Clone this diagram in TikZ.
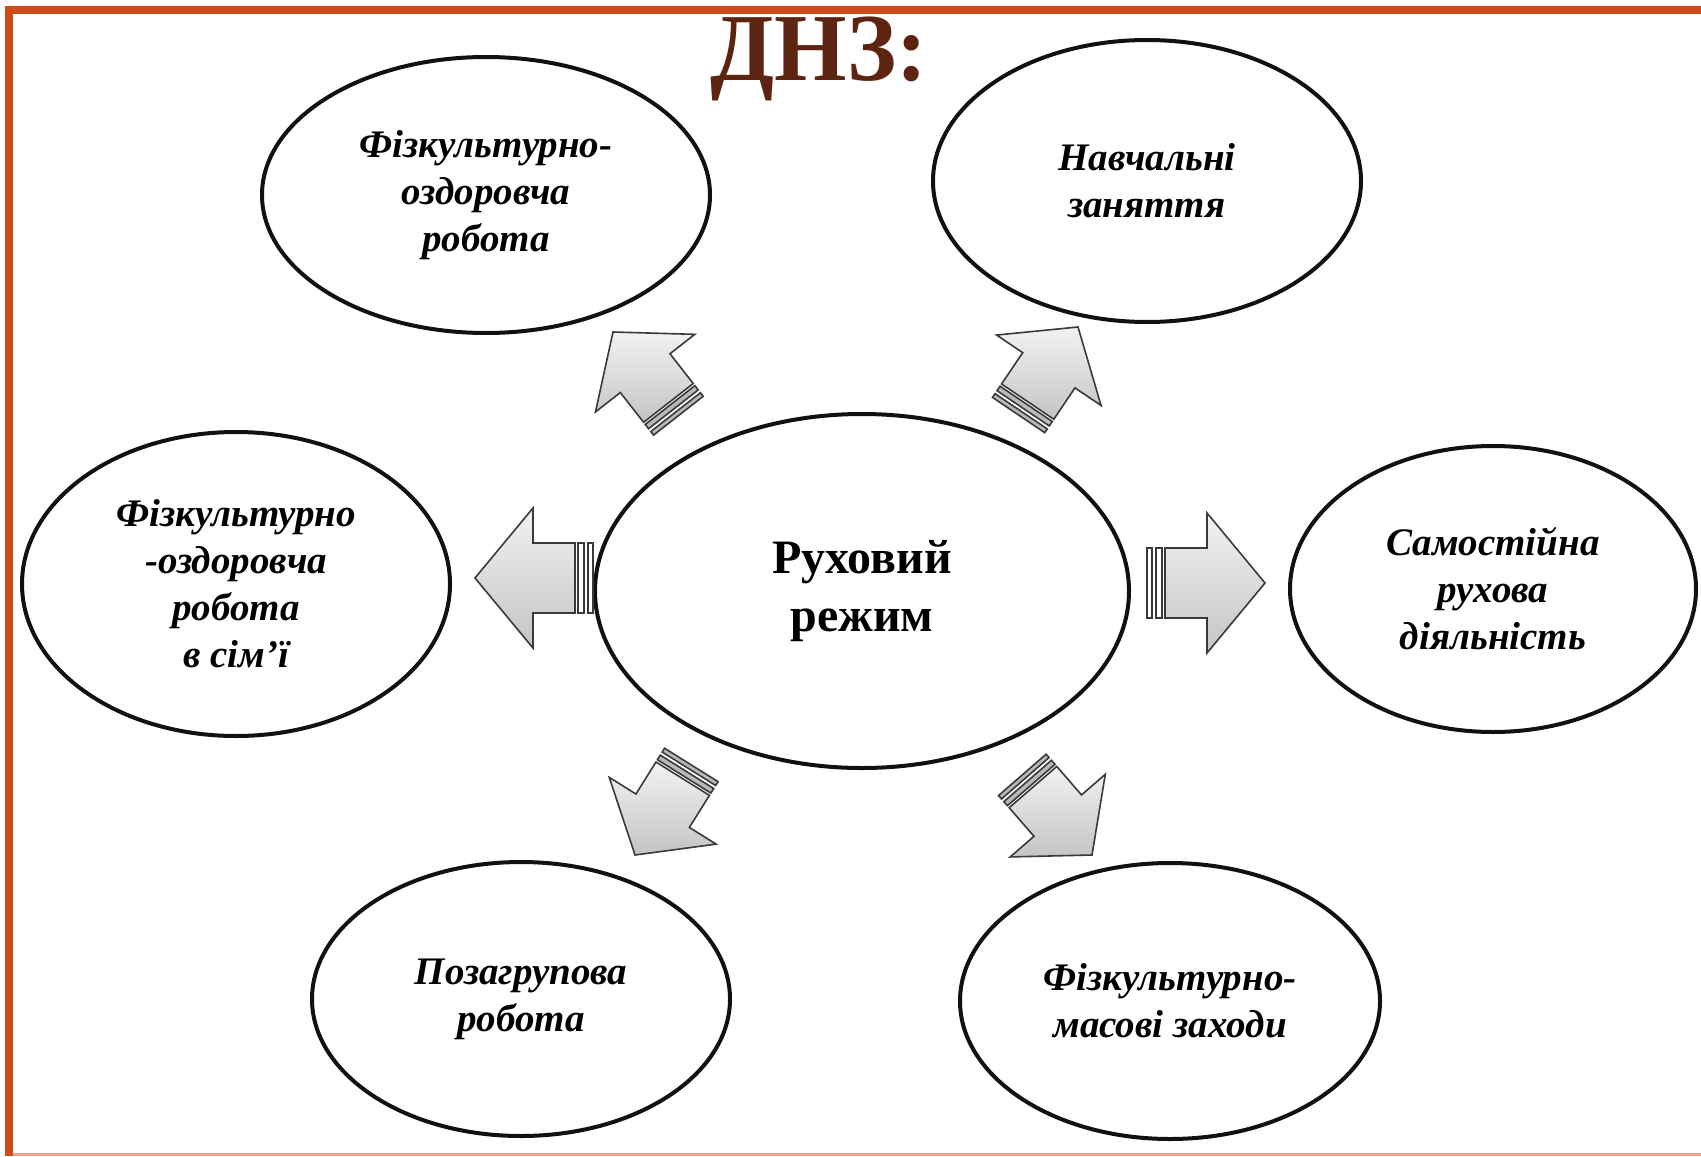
\documentclass[tikz,border=0pt]{standalone}
\usepackage{fontspec}
\setmainfont{Liberation Serif}
\usetikzlibrary{shapes.geometric}
\definecolor{DnzOrange}{HTML}{D04A1A}
\definecolor{DnzOrangeLight}{HTML}{EBA58E}
\definecolor{DnzBrown}{HTML}{5E2412}
\definecolor{DnzLine}{HTML}{111111}
\definecolor{DnzArrowEdge}{HTML}{3A3A3A}
\definecolor{DnzArrowTop}{HTML}{F2F2F2}
\definecolor{DnzArrowBottom}{HTML}{C4C4C4}
\newcommand{\DnzTitle}{\fontsize{48}{52}\selectfont\bfseries}
\newcommand{\DnzCentre}{\fontsize{24}{29}\selectfont\bfseries}
\newcommand{\DnzOval}{\fontsize{19.5}{23.5}\selectfont\bfseries\itshape}
\tikzset{
  ovalbox/.style={
    ellipse,
    draw=DnzLine,
    fill=white,
    line width=2pt,
    align=center,
    inner sep=0pt,
    text=black,
    font=\DnzOval
  },
  centrebox/.style={ovalbox, font=\DnzCentre},
  arrowbody/.style={
    draw=DnzArrowEdge,
    line width=0.8pt,
    line join=miter,
    top color=DnzArrowTop,
    bottom color=DnzArrowBottom
  },
  arrowbar/.style={
    draw=DnzArrowEdge,
    line width=0.8pt,
    fill=white
  },
  hatchedbar/.style={arrowbar/.append style={fill=gray!55}},
  pics/ruharrow/.style={
    code={
      \draw[arrowbody] (0,0) -- (-58,70) -- (-58,35) -- (-100,35)
        -- (-100,-35) -- (-58,-35) -- (-58,-70) -- cycle;
      \draw[arrowbar] (-103,-35) rectangle (-109,35);
      \draw[arrowbar] (-113,-35) rectangle (-118,35);
    }
  }
}

\begin{document}
\begin{tikzpicture}[x=0.5pt,y=-0.5pt]
\path[use as bounding box, fill=white] (0,0) rectangle (1701,1156);

% frame
\fill[DnzOrange] (5,6) rectangle (1701,14);
\fill[DnzOrange] (5,6) rectangle (13,1156);
\fill[DnzOrangeLight] (13,1153) rectangle (1701,1156);

\node[font=\DnzTitle, text=DnzBrown, anchor=base, xscale=0.97] (title) at (819,81) {ДНЗ:};

\node[centrebox, minimum width=267pt, minimum height=177pt] (ruh) at (862,591)
  {Руховий\\режим};
\node[ovalbox, minimum width=224pt, minimum height=138pt] (fizoz) at (486,195)
  {Фізкультурно-\\оздоровча\\робота};
\node[ovalbox, minimum width=214pt, minimum height=141pt] (navch) at (1147,181)
  {Навчальні\\заняття};
\node[ovalbox, minimum width=214pt, minimum height=152pt] (simja) at (236,584)
  {Фізкультурно\\-оздоровча\\робота\\в сім’ї};
\node[ovalbox, minimum width=203pt, minimum height=143pt] (samost) at (1493,589)
  {Самостійна\\рухова\\діяльність};
\node[ovalbox, minimum width=209pt, minimum height=137pt] (pozagr) at (521,999)
  {Позагрупова\\робота};
\node[ovalbox, minimum width=210pt, minimum height=138pt] (masovi) at (1170,1001)
  {Фізкультурно-\\масові заходи};

% block arrows round the centre
\pic[rotate=128, scale=0.9, hatchedbar] (toFizoz) at (613,332) {ruharrow};
\pic[rotate=56, scale=0.9, hatchedbar] (toNavch) at (1078,327) {ruharrow};
\pic[rotate=180] (toSimja) at (475,578) {ruharrow};
\pic (toSamost) at (1265,583) {ruharrow};
\pic[rotate=-122, scale=0.9, hatchedbar] (toPozagr) at (635,855) {ruharrow};
\pic[rotate=-49, scale=0.9, hatchedbar] (toMasovi) at (1092,855) {ruharrow};

\end{tikzpicture}
\end{document}
